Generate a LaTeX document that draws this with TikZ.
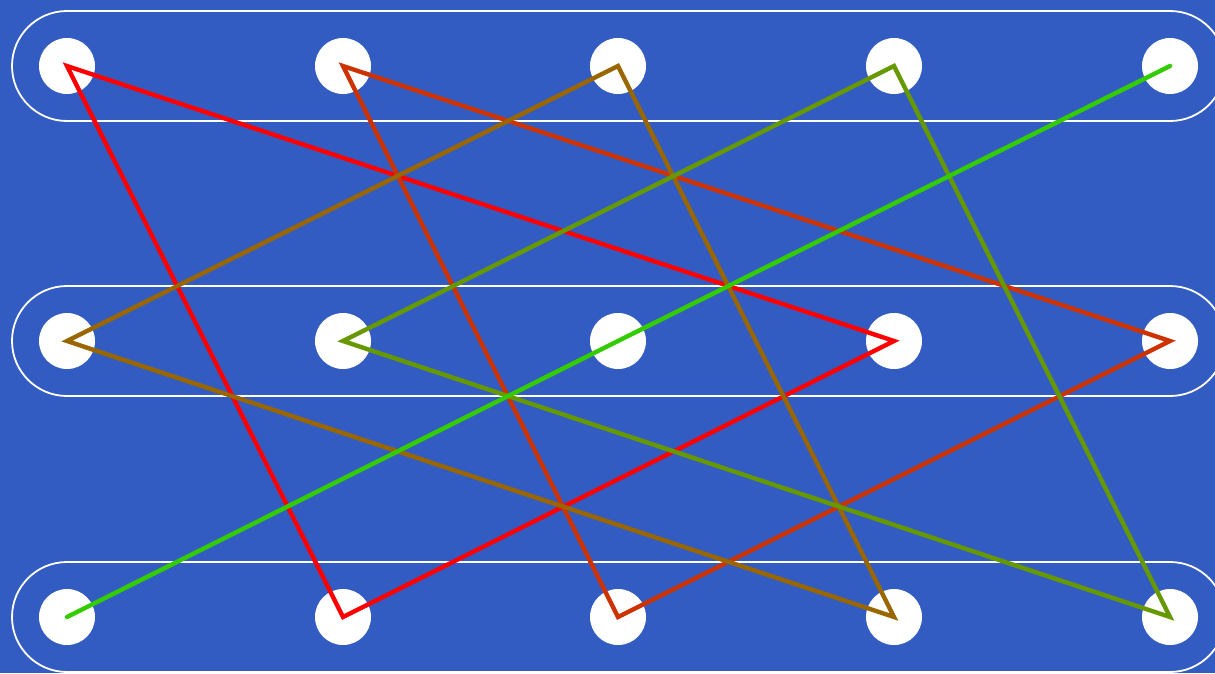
\documentclass[tikz,border=0pt]{standalone}
\definecolor{bg}{HTML}{335CC2}
\definecolor{c0}{HTML}{FF0000}
\definecolor{c1}{HTML}{CC3300}
\definecolor{c2}{HTML}{996600}
\definecolor{c3}{HTML}{669900}
\definecolor{c4}{HTML}{33CC00}
\begin{document}
\begin{tikzpicture}[x=1pt,y=-1pt,
  dot/.style={circle,fill=white,draw=none,minimum size=56pt,inner sep=0pt},
  rail/.style={white,line width=2.6pt},
  endarc/.style={white,line width=1.8pt},
  tri/.style={line width=4.4pt,line join=miter,line cap=round}]
\useasboundingbox (0,0) rectangle (1215,673);
\fill[bg] (0,0) rectangle (1215,673);
\begin{scope}
\clip (0,0) rectangle (1215,673);
\foreach \r/\y in {0/66,1/341,2/617}{
  \draw[rail] (67,\y-55) -- (1170,\y-55);
  \draw[rail] (67,\y+55) -- (1170,\y+55);
  \draw[endarc] (67,\y-55) arc[start angle=-90,end angle=-270,radius=55];
  \draw[endarc] (1170,\y-55) arc[start angle=-90,end angle=90,radius=55];
}
\end{scope}
\foreach \c/\x in {0/67,1/343,2/618,3/894,4/1170}{
  \foreach \r/\y in {0/66,1/341,2/617}{
    \node[dot] (d\c\r) at (\x,\y) {};
  }
}
\draw[tri,c0] (d00.center) -- (d12.center) -- (d31.center) -- cycle;
\draw[tri,c1] (d10.center) -- (d22.center) -- (d41.center) -- cycle;
\draw[tri,c2] (d20.center) -- (d01.center) -- (d32.center) -- cycle;
\draw[tri,c3] (d30.center) -- (d11.center) -- (d42.center) -- cycle;
\draw[tri,c4] (d40.center) -- (d21.center) -- (d02.center);
\end{tikzpicture}
\end{document}
